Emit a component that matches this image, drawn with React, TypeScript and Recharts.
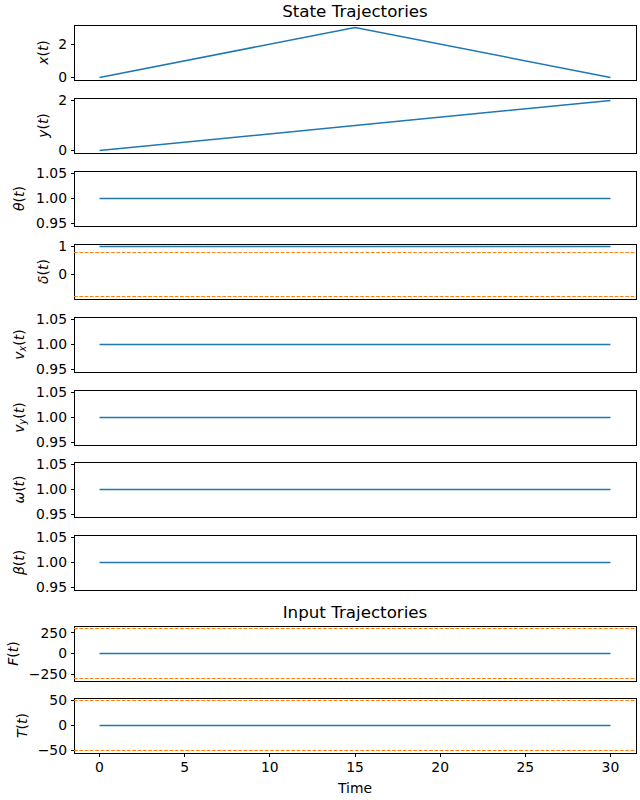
import React from 'react';
import { LineChart, Line, XAxis, YAxis, ReferenceLine, ReferenceArea } from 'recharts';

// Sample times and state / input trajectories
const time = [0, 15, 30];
const xPos = [0, 3, 0];
const yPos = [0, 1, 2];
const theta = [1, 1, 1];
const delta = [1, 1, 1];
const vx = [1, 1, 1];
const vy = [1, 1, 1];
const omega = [1, 1, 1];
const beta = [1, 1, 1];
const force = [0, 0, 0];
const torque = [0, 0, 0];

// Constraint bounds (dashed)
const deltaBounds = [0.785, -0.785];
const forceBounds = [300, -300];
const torqueBounds = [50, -50];

// Axis ticks
const timeTicks = [0, 5, 10, 15, 20, 25, 30];
const posXTicks = [0, 2];
const posYTicks = [0, 2];
const unitTicks = [0.95, 1.0, 1.05];
const deltaTicks = [0, 1];
const forceTicks = [-250, 0, 250];
const torqueTicks = [-50, 0, 50];

const rows = time.map((t, i) => ({
  t,
  x: xPos[i],
  y: yPos[i],
  theta: theta[i],
  delta: delta[i],
  vx: vx[i],
  vy: vy[i],
  omega: omega[i],
  beta: beta[i],
  F: force[i],
  T: torque[i],
}));

const BLUE = '#1f77b4';
const ORANGE = '#ff7f0e';
const FONT = '"DejaVu Sans", sans-serif';
const TIME_DOMAIN: [number, number] = [-1.5, 31.5];
const PAD_T = 12;
const PLOT_H = 55;

const fmtInt = (v: number) => String(v).replace('-', '\u2212');
const fmt2 = (v: number) => v.toFixed(2);

type PanelProps = {
  top: number;
  dataKey: string;
  domain: [number, number];
  ticks: number[];
  fmt: (v: number) => string;
  sym: string;
  sub?: string;
  labelX: number;
  bounds?: number[];
  last?: boolean;
};

function AxisLabel({ cx, cy, sym, sub }: { cx: number; cy: number; sym: string; sub?: string }) {
  return (
    <text
      x={cx}
      y={cy}
      transform={`rotate(-90 ${cx} ${cy})`}
      textAnchor="middle"
      dominantBaseline="central"
      fontSize={13.9}
      fontFamily={FONT}
      fill="#000"
    >
      <tspan fontStyle="italic">{sym}</tspan>
      {sub && (
        <tspan fontStyle="italic" fontSize={9.7} dy={3}>
          {sub}
        </tspan>
      )}
      <tspan dy={sub ? -3 : 0}>(</tspan>
      <tspan fontStyle="italic">t</tspan>
      <tspan>)</tspan>
    </text>
  );
}

function Panel({ top, dataKey, domain, ticks, fmt, sym, sub, labelX, bounds, last }: PanelProps) {
  const bottomH = last ? 30 : 8;
  const h = PAD_T + PLOT_H + bottomH;
  return (
    <div style={{ position: 'absolute', left: 0, top: top - PAD_T }}>
      <LineChart width={640} height={h} data={rows} margin={{ top: PAD_T, right: 4, bottom: 0, left: 0 }}>
        <XAxis
          dataKey="t"
          type="number"
          domain={TIME_DOMAIN}
          allowDataOverflow
          ticks={timeTicks}
          interval={0}
          height={bottomH}
          axisLine={false}
          tickSize={3.5}
          tickMargin={6}
          stroke="#000"
          tickLine={{ stroke: '#000', strokeWidth: 1, shapeRendering: 'crispEdges' }}
          tick={last ? { fill: '#000', fontSize: 13.9, fontFamily: FONT } : false}
        />
        <YAxis
          type="number"
          domain={domain}
          allowDataOverflow
          ticks={ticks}
          interval={0}
          width={74}
          axisLine={false}
          tickSize={3.5}
          tickMargin={3.5}
          tickFormatter={fmt}
          tickLine={{ stroke: '#000', strokeWidth: 1, shapeRendering: 'crispEdges' }}
          tick={{ fill: '#000', fontSize: 13.9, fontFamily: FONT }}
          label={() => <AxisLabel cx={labelX} cy={PAD_T + PLOT_H / 2} sym={sym} sub={sub} />}
        />
        {bounds?.map((b) => (
          <ReferenceLine
            key={`${dataKey}-${b}`}
            y={b}
            stroke={ORANGE}
            strokeOpacity={1}
            strokeWidth={1}
            strokeDasharray="3.7 1.6"
          />
        ))}
        <Line
          type="linear"
          dataKey={dataKey}
          stroke={BLUE}
          strokeWidth={1.5}
          dot={false}
          isAnimationActive={false}
        />
        <ReferenceArea
          x1={TIME_DOMAIN[0]}
          x2={TIME_DOMAIN[1]}
          y1={domain[0]}
          y2={domain[1]}
          fill="none"
          fillOpacity={0}
          stroke="#000"
          strokeOpacity={1}
          strokeWidth={1}
          shapeRendering="crispEdges"
        />
      </LineChart>
    </div>
  );
}

export default function App() {
  return (
    <div
      style={{
        position: 'absolute',
        left: 0,
        top: 0,
        width: 640,
        height: 800,
        background: '#fff',
        fontFamily: FONT,
      }}
    >
      <Panel top={25} dataKey="x" domain={[-0.15, 3.15]} ticks={posXTicks} fmt={fmtInt} sym="x" labelX={43} />
      <Panel top={98} dataKey="y" domain={[-0.1, 2.1]} ticks={posYTicks} fmt={fmtInt} sym="y" labelX={43} />
      <Panel top={171} dataKey="theta" domain={[0.945, 1.055]} ticks={unitTicks} fmt={fmt2} sym="θ" labelX={19} />
      <Panel
        top={244}
        dataKey="delta"
        domain={[-0.874, 1.089]}
        ticks={deltaTicks}
        fmt={fmtInt}
        sym="δ"
        labelX={43}
        bounds={deltaBounds}
      />
      <Panel top={317} dataKey="vx" domain={[0.945, 1.055]} ticks={unitTicks} fmt={fmt2} sym="v" sub="x" labelX={19} />
      <Panel top={390} dataKey="vy" domain={[0.945, 1.055]} ticks={unitTicks} fmt={fmt2} sym="v" sub="y" labelX={19} />
      <Panel top={462} dataKey="omega" domain={[0.945, 1.055]} ticks={unitTicks} fmt={fmt2} sym="ω" labelX={19} />
      <Panel top={535} dataKey="beta" domain={[0.945, 1.055]} ticks={unitTicks} fmt={fmt2} sym="β" labelX={19} />
      <Panel
        top={626}
        dataKey="F"
        domain={[-330, 330]}
        ticks={forceTicks}
        fmt={fmtInt}
        sym="F"
        labelX={13}
        bounds={forceBounds}
      />
      <Panel
        top={698}
        dataKey="T"
        domain={[-55, 55]}
        ticks={torqueTicks}
        fmt={fmtInt}
        sym="T"
        labelX={22}
        bounds={torqueBounds}
        last
      />
      <svg width={640} height={800} style={{ position: 'absolute', left: 0, top: 0, pointerEvents: 'none' }}>
        <text x={355} y={16.5} textAnchor="middle" fontSize={16.7} fontFamily={FONT} fill="#000">
          State Trajectories
        </text>
        <text x={355} y={617.5} textAnchor="middle" fontSize={16.7} fontFamily={FONT} fill="#000">
          Input Trajectories
        </text>
        <text x={355} y={793} textAnchor="middle" fontSize={13.9} fontFamily={FONT} fill="#000">
          Time
        </text>
      </svg>
    </div>
  );
}
